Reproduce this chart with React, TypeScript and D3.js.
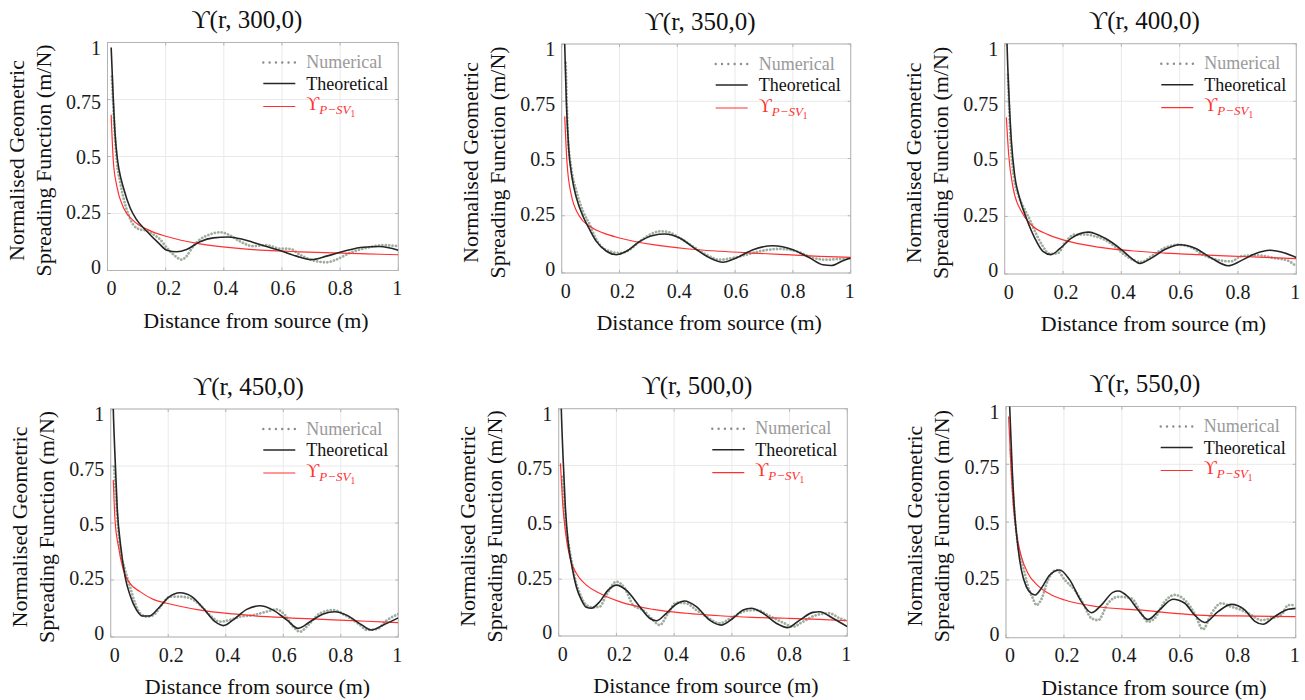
import React from "react";
import * as d3 from "d3";

// Source frequencies (Hz) of the six panels
const frequencies = [300, 350, 400, 450, 500, 550];

const xTicks = [0, 0.2, 0.4, 0.6, 0.8, 1];
const xTickLabels = ["0", "0.2", "0.4", "0.6", "0.8", "1"];
const yTicks = [0, 0.25, 0.5, 0.75, 1];
const yTickLabels = ["0", "0.25", "0.5", "0.75", "1"];

// [distance (m), normalised spreading value (m/N)]
const theo300 = [[0.0126,0.978],[0.02,0.75],[0.026,0.6],[0.033,0.5],[0.04,0.44],[0.055,0.362],[0.078,0.274],[0.1,0.223],[0.135,0.172],[0.175,0.121],[0.204,0.089],[0.238,0.082],[0.272,0.092],[0.318,0.126],[0.364,0.143],[0.415,0.147],[0.467,0.136],[0.524,0.114],[0.593,0.088],[0.65,0.063],[0.701,0.048],[0.753,0.063],[0.822,0.088],[0.879,0.102],[0.936,0.105],[1.0,0.089]];
const num300 = [[0.015,0.85],[0.023,0.647],[0.032,0.479],[0.043,0.39],[0.055,0.318],[0.072,0.245],[0.089,0.2],[0.112,0.18],[0.135,0.175],[0.158,0.158],[0.181,0.136],[0.204,0.1],[0.227,0.07],[0.255,0.048],[0.272,0.063],[0.295,0.107],[0.318,0.136],[0.352,0.158],[0.387,0.168],[0.415,0.158],[0.455,0.128],[0.5,0.107],[0.547,0.111],[0.593,0.096],[0.627,0.095],[0.661,0.07],[0.696,0.048],[0.753,0.036],[0.787,0.048],[0.833,0.077],[0.89,0.099],[0.947,0.111],[1.0,0.107]];
const psv300 = [[0.0126,0.683],[0.02,0.48],[0.032,0.37],[0.055,0.275],[0.089,0.219],[0.146,0.175],[0.204,0.149],[0.318,0.117],[0.432,0.099],[0.547,0.088],[0.661,0.082],[0.776,0.077],[0.89,0.073],[1.0,0.069]];

const theo350 = [[0.008,1.1],[0.0104,1.0],[0.016,0.75],[0.024,0.546],[0.036,0.415],[0.051,0.328],[0.074,0.247],[0.097,0.189],[0.12,0.138],[0.155,0.095],[0.189,0.08],[0.224,0.095],[0.27,0.138],[0.316,0.164],[0.356,0.17],[0.408,0.153],[0.466,0.102],[0.512,0.066],[0.558,0.047],[0.604,0.066],[0.662,0.102],[0.731,0.119],[0.8,0.102],[0.858,0.066],[0.904,0.036],[0.933,0.033],[0.973,0.054],[1.0,0.066]];
const num350 = [[0.014,0.917],[0.022,0.59],[0.033,0.459],[0.051,0.357],[0.074,0.269],[0.097,0.211],[0.114,0.16],[0.137,0.116],[0.166,0.095],[0.2,0.087],[0.235,0.102],[0.27,0.138],[0.305,0.167],[0.339,0.182],[0.368,0.179],[0.408,0.153],[0.454,0.116],[0.5,0.08],[0.547,0.058],[0.593,0.066],[0.639,0.08],[0.697,0.098],[0.754,0.105],[0.812,0.095],[0.87,0.066],[0.916,0.058],[0.962,0.061],[1.0,0.063]];
const psv350 = [[0.0104,0.684],[0.018,0.488],[0.033,0.342],[0.062,0.247],[0.097,0.204],[0.143,0.175],[0.2,0.153],[0.316,0.124],[0.431,0.106],[0.547,0.095],[0.662,0.087],[0.777,0.08],[0.893,0.073],[1.0,0.068]];

const theo400 = [[0.006,1.1],[0.008,1.0],[0.015,0.764],[0.023,0.576],[0.034,0.431],[0.051,0.33],[0.074,0.243],[0.103,0.156],[0.131,0.098],[0.158,0.084],[0.189,0.11],[0.229,0.156],[0.286,0.182],[0.343,0.156],[0.4,0.106],[0.434,0.069],[0.463,0.046],[0.503,0.069],[0.549,0.106],[0.6,0.127],[0.651,0.113],[0.709,0.069],[0.766,0.036],[0.811,0.058],[0.857,0.087],[0.909,0.103],[0.96,0.091],[1.0,0.072]];
const num400 = [[0.011,0.865],[0.021,0.562],[0.032,0.417],[0.046,0.344],[0.063,0.294],[0.086,0.236],[0.109,0.171],[0.131,0.12],[0.154,0.087],[0.183,0.091],[0.206,0.135],[0.24,0.171],[0.28,0.171],[0.309,0.164],[0.343,0.149],[0.377,0.12],[0.411,0.084],[0.446,0.058],[0.469,0.052],[0.503,0.077],[0.549,0.113],[0.594,0.127],[0.64,0.116],[0.674,0.087],[0.709,0.069],[0.743,0.058],[0.777,0.055],[0.811,0.077],[0.869,0.081],[0.926,0.069],[0.971,0.058],[1.0,0.033]];
const psv400 = [[0.0057,0.68],[0.0137,0.518],[0.029,0.373],[0.057,0.272],[0.091,0.214],[0.149,0.171],[0.206,0.146],[0.32,0.117],[0.434,0.101],[0.549,0.091],[0.663,0.084],[0.777,0.078],[0.891,0.072],[1.0,0.067]];

const theo450 = [[0.007,1.1],[0.009,1.0],[0.015,0.79],[0.023,0.557],[0.035,0.396],[0.05,0.265],[0.067,0.184],[0.09,0.118],[0.111,0.092],[0.134,0.092],[0.166,0.126],[0.2,0.173],[0.241,0.194],[0.282,0.177],[0.322,0.126],[0.363,0.067],[0.392,0.05],[0.426,0.075],[0.473,0.121],[0.519,0.137],[0.565,0.118],[0.612,0.075],[0.652,0.038],[0.693,0.067],[0.739,0.101],[0.78,0.111],[0.82,0.096],[0.873,0.053],[0.907,0.031],[0.948,0.053],[1.0,0.084]];
const num450 = [[0.012,0.747],[0.021,0.557],[0.032,0.396],[0.05,0.294],[0.067,0.221],[0.085,0.148],[0.102,0.104],[0.125,0.089],[0.148,0.096],[0.177,0.14],[0.206,0.177],[0.241,0.177],[0.276,0.17],[0.311,0.14],[0.345,0.096],[0.38,0.067],[0.415,0.075],[0.45,0.089],[0.496,0.096],[0.542,0.111],[0.577,0.121],[0.606,0.096],[0.635,0.045],[0.658,0.023],[0.687,0.053],[0.728,0.104],[0.774,0.118],[0.82,0.092],[0.867,0.053],[0.89,0.031],[0.925,0.034],[0.959,0.072],[1.0,0.101]];
const psv450 = [[0.009,0.689],[0.015,0.513],[0.027,0.396],[0.044,0.294],[0.067,0.235],[0.102,0.199],[0.148,0.165],[0.195,0.148],[0.311,0.118],[0.426,0.101],[0.542,0.089],[0.658,0.082],[0.774,0.075],[0.89,0.069],[1.0,0.063]];

const theo500 = [[0.007,1.1],[0.009,1.0],[0.015,0.79],[0.023,0.569],[0.032,0.422],[0.046,0.305],[0.061,0.217],[0.079,0.158],[0.096,0.126],[0.113,0.122],[0.142,0.151],[0.171,0.202],[0.2,0.224],[0.234,0.202],[0.281,0.129],[0.315,0.078],[0.338,0.067],[0.373,0.1],[0.408,0.141],[0.436,0.154],[0.477,0.129],[0.523,0.07],[0.564,0.048],[0.604,0.078],[0.639,0.114],[0.667,0.122],[0.708,0.1],[0.754,0.056],[0.794,0.037],[0.835,0.07],[0.881,0.104],[0.904,0.107],[0.95,0.078],[1.0,0.041]];
const num500 = [[0.012,0.7],[0.021,0.525],[0.032,0.422],[0.044,0.334],[0.055,0.261],[0.073,0.188],[0.096,0.136],[0.119,0.126],[0.142,0.129],[0.165,0.18],[0.2,0.239],[0.229,0.21],[0.258,0.136],[0.292,0.114],[0.327,0.07],[0.35,0.048],[0.379,0.1],[0.408,0.147],[0.442,0.144],[0.477,0.114],[0.512,0.085],[0.558,0.056],[0.604,0.085],[0.65,0.111],[0.685,0.114],[0.731,0.088],[0.777,0.059],[0.812,0.041],[0.846,0.063],[0.893,0.092],[0.939,0.1],[0.973,0.078],[1.0,0.067]];
const psv500 = [[0.006,0.76],[0.013,0.598],[0.024,0.452],[0.038,0.349],[0.061,0.276],[0.096,0.224],[0.142,0.188],[0.211,0.151],[0.327,0.117],[0.442,0.1],[0.558,0.089],[0.673,0.082],[0.789,0.078],[0.904,0.073],[1.0,0.067]];

const theo550 = [[0.01,1.1],[0.0127,1.0],[0.021,0.74],[0.03,0.538],[0.041,0.394],[0.053,0.293],[0.07,0.221],[0.087,0.192],[0.101,0.185],[0.122,0.214],[0.151,0.271],[0.185,0.293],[0.22,0.25],[0.26,0.156],[0.295,0.108],[0.329,0.141],[0.369,0.196],[0.387,0.202],[0.421,0.177],[0.456,0.12],[0.49,0.079],[0.53,0.12],[0.576,0.166],[0.617,0.149],[0.651,0.098],[0.686,0.066],[0.732,0.113],[0.778,0.144],[0.824,0.12],[0.858,0.072],[0.887,0.058],[0.927,0.091],[0.974,0.123],[1.0,0.127]];
const num550 = [[0.016,0.812],[0.024,0.625],[0.036,0.452],[0.047,0.365],[0.059,0.307],[0.076,0.221],[0.093,0.17],[0.105,0.141],[0.122,0.166],[0.145,0.25],[0.174,0.293],[0.203,0.25],[0.237,0.206],[0.266,0.149],[0.295,0.084],[0.318,0.076],[0.352,0.149],[0.387,0.177],[0.433,0.17],[0.467,0.105],[0.49,0.069],[0.513,0.084],[0.548,0.156],[0.582,0.185],[0.617,0.163],[0.651,0.105],[0.68,0.036],[0.709,0.105],[0.743,0.149],[0.778,0.134],[0.812,0.12],[0.847,0.098],[0.881,0.076],[0.916,0.084],[0.95,0.098],[0.974,0.141],[1.0,0.141]];
const psv550 = [[0.009,0.957],[0.016,0.769],[0.024,0.596],[0.036,0.452],[0.053,0.351],[0.076,0.278],[0.11,0.225],[0.157,0.185],[0.203,0.163],[0.318,0.134],[0.456,0.12],[0.663,0.098],[0.8,0.094],[1.0,0.091]];

const theoretical = [theo300, theo350, theo400, theo450, theo500, theo550];
const numerical = [num300, num350, num400, num450, num500, num550];
const pSv1 = [psv300, psv350, psv400, psv450, psv500, psv550];

// Plot frame of each panel on the page
const frames = [
  { left: 107.5, right: 398.3, top: 42.5, bottom: 270.5 },
  { left: 561.7, right: 850.7, top: 44, bottom: 273 },
  { left: 1004.7, right: 1296.3, top: 43.7, bottom: 274 },
  { left: 110.7, right: 398.3, top: 409, bottom: 637 },
  { left: 558.7, right: 847.3, top: 408.7, bottom: 636 },
  { left: 1006, right: 1295.7, top: 406.5, bottom: 637.7 },
];

const SERIF = "'Liberation Serif', 'Times New Roman', serif";
const MATH = "'Liberation Serif', 'DejaVu Serif', serif";
const FRAME = "#b4b4b4";
const GRID = "#e9e9e9";
const RED = "#ff3030";
const BLACK = "#262626";
const NUM = "#9fae9f";

type Pt = number[];

function Panel({ i }: { i: number }) {
  const f = frames[i];
  const x = d3.scaleLinear().domain([0, 1]).range([f.left, f.right]);
  const y = d3.scaleLinear().domain([0, 1]).range([f.bottom, f.top]);
  const xl = d3.scaleLinear().domain([0, 1]).range([f.left + 4, f.right - 1]);
  const yl = d3.scaleLinear().domain([0, 1]).range([f.bottom - 3.5, f.top + 5.5]);
  const line = d3
    .line<Pt>()
    .x((d) => x(d[0]))
    .y((d) => y(d[1]))
    .curve(d3.curveMonotoneX);
  const clipId = `clip-${i}`;
  const cx = (f.left + f.right) / 2;
  const cy = (f.top + f.bottom) / 2;
  const lg = { x0: f.right - 135, x1: f.right - 103, tx: f.right - 92 };
  const rows = [f.top + 20, f.top + 41, f.top + 64];
  return (
    <g>
      <defs>
        <clipPath id={clipId}>
          <rect x={f.left} y={f.top} width={f.right - f.left} height={f.bottom - f.top} />
        </clipPath>
      </defs>
      <rect x={f.left} y={f.top} width={f.right - f.left} height={f.bottom - f.top} fill="#fff" />
      {xTicks.map((t) => (
        <line key={"gx" + t} x1={x(t)} x2={x(t)} y1={f.top} y2={f.bottom} stroke={GRID} strokeWidth={1} />
      ))}
      {yTicks.map((t) => (
        <line key={"gy" + t} x1={f.left} x2={f.right} y1={y(t)} y2={y(t)} stroke={GRID} strokeWidth={1} />
      ))}
      <rect x={f.left} y={f.top} width={f.right - f.left} height={f.bottom - f.top} fill="none" stroke={FRAME} strokeWidth={1} />
      {xTicks.map((t) => (
        <g key={"tx" + t}>
          <line x1={x(t)} x2={x(t)} y1={f.bottom} y2={f.bottom - 3} stroke={FRAME} />
          <line x1={x(t)} x2={x(t)} y1={f.top} y2={f.top + 3} stroke={FRAME} />
        </g>
      ))}
      {yTicks.map((t) => (
        <g key={"ty" + t}>
          <line x1={f.left} x2={f.left + 3} y1={y(t)} y2={y(t)} stroke={FRAME} />
          <line x1={f.right} x2={f.right - 3} y1={y(t)} y2={y(t)} stroke={FRAME} />
        </g>
      ))}
      <g clipPath={`url(#${clipId})`}>
        <path d={line(numerical[i]) || ""} fill="none" stroke={NUM} strokeWidth={2.8} strokeDasharray="0.01 3.4" strokeLinecap="round" />
        <path d={line(pSv1[i]) || ""} fill="none" stroke={RED} strokeWidth={1.2} />
        <path d={line(theoretical[i]) || ""} fill="none" stroke={BLACK} strokeWidth={1.6} />
      </g>
      {/* tick labels */}
      {xTicks.map((t, k) => (
        <text key={"lx" + t} x={xl(t)} y={f.bottom + 24.5} textAnchor="middle" fontFamily={SERIF} fontSize={20} fill="#1a1a1a">
          {xTickLabels[k]}
        </text>
      ))}
      {yTicks.map((t, k) => (
        <text key={"ly" + t} x={f.left - 6.5} y={yl(t)} dy="0.33em" textAnchor="end" fontFamily={SERIF} fontSize={20} fill="#1a1a1a">
          {yTickLabels[k]}
        </text>
      ))}
      {/* axis titles */}
      <text x={cx + 3} y={f.bottom + 57} textAnchor="middle" fontFamily={SERIF} fontSize={22} fill="#111">
        Distance from source (m)
      </text>
      <text transform={`translate(${f.left - 91},${cy + 4}) rotate(-90)`} dy="0.33em" textAnchor="middle" fontFamily={SERIF} fontSize={22} fill="#111">
        Normalised Geometric
      </text>
      <text transform={`translate(${f.left - 64},${cy + 4}) rotate(-90)`} dy="0.33em" textAnchor="middle" fontFamily={SERIF} fontSize={22} fill="#111">
        Spreading Function (m/N)
      </text>
      {/* panel title */}
      <text x={cx - 6} y={f.top - 14.5} textAnchor="middle" fontFamily={MATH} fontSize={25} fill="#111">
        {`ϒ(r, ${frequencies[i]},0)`}
      </text>
      {/* legend */}
      <line x1={lg.x0} x2={lg.x1} y1={rows[0]} y2={rows[0]} stroke="#8c8c8c" strokeWidth={2.4} strokeDasharray="0.01 6.3" strokeLinecap="round" />
      <text x={lg.tx} y={rows[0] + 5.5} fontFamily={SERIF} fontSize={18} fill="#9a9a9a">Numerical</text>
      <line x1={lg.x0} x2={lg.x1} y1={rows[1]} y2={rows[1]} stroke={BLACK} strokeWidth={1.6} />
      <text x={lg.tx} y={rows[1] + 6} fontFamily={SERIF} fontSize={18} fill="#111">Theoretical</text>
      <line x1={lg.x0} x2={lg.x1} y1={rows[2]} y2={rows[2]} stroke={RED} strokeWidth={1.2} />
      <text x={lg.tx} y={rows[2] + 3.5} fontFamily={MATH} fontSize={18} fill={RED}>
        ϒ
        <tspan dy={4} fontSize={13} fontStyle="italic">P−SV</tspan>
        <tspan dy={3} fontSize={9.5}>1</tspan>
      </text>
    </g>
  );
}

export default function App() {
  return (
    <svg width={1305} height={700} style={{ position: "absolute", left: 0, top: 0, background: "#fff" }}>
      <rect width={1305} height={700} fill="#fff" />
      {frequencies.map((_, i) => (
        <Panel key={i} i={i} />
      ))}
    </svg>
  );
}
